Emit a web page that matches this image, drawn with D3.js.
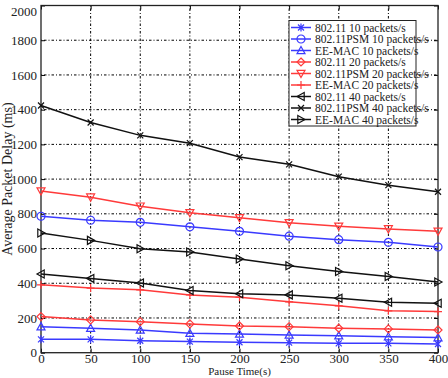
<!DOCTYPE html>
<html><head><meta charset="utf-8">
<script src="https://cdn.jsdelivr.net/npm/d3@7"></script>
<style>body{margin:0;background:#fff;}svg{display:block;font-family:"Liberation Serif","Times New Roman",serif;}</style>
</head><body>
<svg id="c" width="448" height="378"></svg>
<script>
const pauseTimes = [0,50,100,150,200,250,300,350,400];
const yTicks = [0,200,400,600,800,1000,1200,1400,1600,1800,2000];
const s80211_10   = [77,77,69,64,60,58,54,54,50];
const sPSM_10     = [786,763,751,725,699,671,651,636,609];
const sEE_10      = [150,141,131,112,108,102,98,92,87];
const s80211_20   = [208,189,179,166,154,150,141,137,131];
const sPSM_20     = [931,896,844,806,777,748,728,713,699];
const sEE_20      = [391,372,362,333,320,293,270,241,237];
const s80211_40   = [453,428,401,358,339,333,314,291,285];
const sPSM_40     = [1424,1326,1252,1207,1127,1085,1014,965,927];
const sEE_40      = [690,647,599,580,540,501,468,439,407];
const seriesNames = ["802.11 10 packets/s","802.11PSM 10 packets/s","EE-MAC 10 packets/s","802.11 20 packets/s","802.11PSM 20 packets/s","EE-MAC 20 packets/s","802.11 40 packets/s","802.11PSM 40 packets/s","EE-MAC 40 packets/s"];
const seriesData = [s80211_10,sPSM_10,sEE_10,s80211_20,sPSM_20,sEE_20,s80211_40,sPSM_40,sEE_40];
const seriesColors = ["#3a3aff","#3a3aff","#3a3aff","#ff3a3a","#ff3a3a","#ff3a3a","#111","#111","#111"];
const seriesMarkers = ["star","circle","up","diamond","down","plus","left","x","right"];

const svg = d3.select("#c");
const L=41,R=438,T=5.5,B=352.7;
const x = d3.scaleLinear().domain([0,400]).range([L,R]);
const y = d3.scaleLinear().domain([0,2000]).range([B,T]);

// grid
const g = svg.append("g");
g.selectAll(".gx").data(pauseTimes.slice(1,-1)).enter().append("line")
 .attr("x1",d=>x(d)).attr("x2",d=>x(d)).attr("y1",T).attr("y2",B)
 .attr("stroke","#000").attr("stroke-width",1).attr("stroke-dasharray","1,2,2.5,2");
g.selectAll(".gy").data(yTicks.slice(1,-1)).enter().append("line")
 .attr("y1",d=>y(d)).attr("y2",d=>y(d)).attr("x1",L).attr("x2",R)
 .attr("stroke","#000").attr("stroke-width",1).attr("stroke-dasharray","1,2,2.5,2");

// axes
const xAxis = d3.axisBottom(x).tickValues(pauseTimes).tickSize(-4).tickPadding(1).tickFormat(d3.format("d"));
const yAxis = d3.axisLeft(y).tickValues(yTicks).tickSize(-4).tickPadding(4).tickFormat(d3.format("d"));
const ax = svg.append("g").attr("transform",`translate(0,${B})`).call(xAxis);
const ay = svg.append("g").attr("transform",`translate(${L},0)`).call(yAxis);
[ax,ay].forEach(a=>{a.select(".domain").remove();a.selectAll("text").attr("font-size",13).attr("font-family","Liberation Serif").attr("fill","#222");a.selectAll("line").attr("stroke","#000");});
ay.selectAll(".tick").filter(d=>d===2000).select("text").attr("dy","0.75em");
// top/right ticks
svg.append("g").attr("transform",`translate(0,${T})`).call(d3.axisTop(x).tickValues(pauseTimes).tickSize(-4).tickFormat("")).call(a=>a.select(".domain").remove());
svg.append("g").attr("transform",`translate(${R},0)`).call(d3.axisRight(y).tickValues(yTicks).tickSize(-4).tickFormat("")).call(a=>a.select(".domain").remove());
svg.append("rect").attr("x",L).attr("y",T).attr("width",R-L).attr("height",B-T).attr("fill","none").attr("stroke","#222").attr("stroke-width",1.3);

function marker(sel,type,cx,cy,color){
  const s=4;
  const gg=sel.append("g").attr("transform",`translate(${cx},${cy})`).attr("fill","none").attr("stroke",color).attr("stroke-width",1.2);
  if(type==="circle") gg.append("circle").attr("r",s);
  else if(type==="up") gg.append("path").attr("d",`M0,${-s}L${s},${s*0.8}L${-s},${s*0.8}Z`);
  else if(type==="down") gg.append("path").attr("d",`M0,${s}L${s},${-s*0.8}L${-s},${-s*0.8}Z`);
  else if(type==="left") gg.append("path").attr("d",`M${-s},0L${s*0.8},${-s}L${s*0.8},${s}Z`);
  else if(type==="right") gg.append("path").attr("d",`M${s},0L${-s*0.8},${-s}L${-s*0.8},${s}Z`);
  else if(type==="diamond") gg.append("path").attr("d",`M0,${-s}L${s},0L0,${s}L${-s},0Z`);
  else if(type==="plus") gg.append("path").attr("d",`M0,${-s}V${s}M${-s},0H${s}`);
  else if(type==="x") gg.append("path").attr("d",`M${-3},${-3}L3,3M-3,3L3,-3`);
  else if(type==="star") gg.append("path").attr("d",`M0,${-s}V${s}M-3,-3L3,3M-3,3L3,-3`);
}

const line = d3.line().x((d,i)=>x(pauseTimes[i])).y(d=>y(d));
const plot = svg.append("g");
seriesData.forEach((vals,k)=>{
  plot.append("path").attr("d",line(vals)).attr("fill","none").attr("stroke",seriesColors[k]).attr("stroke-width",1.5);
  vals.forEach((v,i)=>marker(plot,seriesMarkers[k],x(pauseTimes[i]),y(v),seriesColors[k]));
});

// legend
const lg = svg.append("g");
const lx=289, ly=20.5, lw=127, lh=105.5;
lg.append("rect").attr("x",lx).attr("y",ly).attr("width",lw).attr("height",lh).attr("fill","#fff").attr("stroke","#222").attr("stroke-width",1);
seriesNames.forEach((n,k)=>{
  const yy = ly+7+k*11.5;
  lg.append("line").attr("x1",lx+2).attr("x2",lx+22).attr("y1",yy).attr("y2",yy).attr("stroke",seriesColors[k]).attr("stroke-width",1.5);
  marker(lg,seriesMarkers[k],lx+12,yy,seriesColors[k]);
  lg.append("text").attr("x",lx+26).attr("y",yy+4).attr("font-size",11.5).attr("fill","#222").text(n);
});

// axis labels
svg.append("text").attr("x",(L+R)/2).attr("y",374.5).attr("text-anchor","middle").attr("font-size",11).attr("fill","#222").text("Pause Time(s)");
svg.append("text").attr("transform",`translate(12,${(T+B)/2}) rotate(-90)`).attr("text-anchor","middle").attr("font-size",14).attr("fill","#222").text("Average Packet Delay (ms)");
</script>
</body></html>
